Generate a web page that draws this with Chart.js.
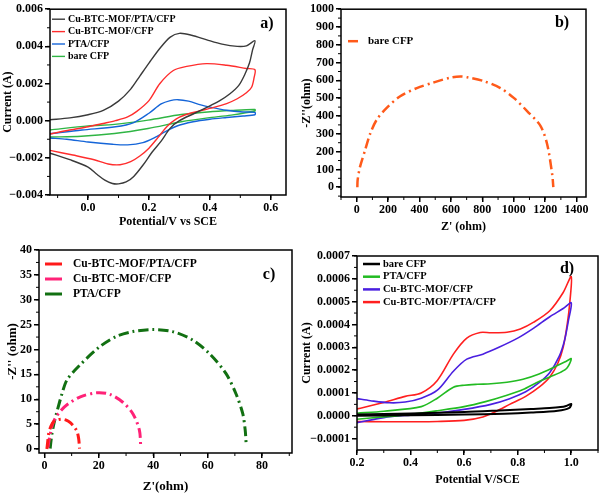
<!DOCTYPE html>
<html>
<head>
<meta charset="utf-8">
<script src="https://cdn.jsdelivr.net/npm/chart.js@4/dist/chart.umd.min.js"></script>
<style>
  body { margin: 0; background: #fff; }
  #wrap { position: relative; width: 600px; height: 494px; }
  canvas { position: absolute; }
</style>
</head>
<body>
<div id="wrap">
  <canvas id="ca" width="300" height="240" style="left:0;top:0"></canvas>
  <canvas id="cb" width="300" height="240" style="left:300px;top:0"></canvas>
  <canvas id="cc" width="300" height="254" style="left:0;top:240px"></canvas>
  <canvas id="cd" width="300" height="254" style="left:300px;top:240px"></canvas>
</div>
<script>
// ---- panel a) CV curves (forward + reverse sweep) ----
const aLabels = ['Cu-BTC-MOF/PTA/CFP', 'Cu-BTC-MOF/CFP', 'PTA/CFP', 'bare CFP']
const aXTicks = [0.0, 0.2, 0.4, 0.6]
const aYTicks = [-0.004, -0.002, 0.0, 0.002, 0.004, 0.006]

const aBlackX = [-0.125, -0.06, 0.0, 0.05, 0.1, 0.14, 0.17, 0.2, 0.236, 0.27, 0.3, 0.34, 0.39, 0.44, 0.49, 0.52, 0.548,
  0.54, 0.53, 0.515, 0.495, 0.466, 0.43, 0.40, 0.35, 0.30, 0.27, 0.24, 0.21, 0.18, 0.15, 0.125, 0.10, 0.08, 0.055, 0.03, 0.0, -0.06, -0.125]
const aBlackY = [0.00005, 0.00015, 0.00032, 0.00055, 0.00105, 0.0017, 0.0024, 0.0031, 0.0039, 0.0045, 0.0047, 0.0046, 0.00435, 0.00412, 0.004, 0.00403, 0.0043,
  0.0038, 0.0031, 0.0025, 0.0019, 0.00145, 0.00105, 0.0008, 0.0004, 0.0, -0.0004, -0.0011, -0.0017, -0.0024, -0.003, -0.0033, -0.0034, -0.00338, -0.0032, -0.0029, -0.0025, -0.0021, -0.00175]

const aRedX = [-0.125, -0.06, 0.0, 0.05, 0.09, 0.13, 0.16, 0.2, 0.236, 0.28, 0.324, 0.389, 0.455, 0.52, 0.548,
  0.545, 0.537, 0.52, 0.49, 0.455, 0.41, 0.36, 0.32, 0.29, 0.26, 0.23, 0.2, 0.17, 0.14, 0.105, 0.066, 0.02, -0.05, -0.125]
const aRedY = [-0.00072, -0.0005, -0.00033, -0.00015, 0.0, 0.0002, 0.0005, 0.00108, 0.002, 0.0027, 0.00292, 0.00307, 0.00298, 0.00281, 0.00274,
  0.0023, 0.0018, 0.0015, 0.00118, 0.00092, 0.0007, 0.0005, 0.00032, 0.0001, -0.0003, -0.0009, -0.00148, -0.0019, -0.0022, -0.00237, -0.00233, -0.0021, -0.00185, -0.0016]

const aBlueX = [-0.125, -0.02, 0.09, 0.15, 0.2, 0.24, 0.27, 0.295, 0.33, 0.37, 0.4, 0.455, 0.509, 0.548,
  0.548, 0.509, 0.455, 0.4, 0.345, 0.29, 0.25, 0.22, 0.18, 0.13, 0.08, 0.0, -0.07, -0.125]
const aBlueY = [-0.0007, -0.0005, -0.00033, -0.0001, 0.0004, 0.0009, 0.00108, 0.00113, 0.00105, 0.00085, 0.00073, 0.00056, 0.00047, 0.00045,
  0.00032, 0.00025, 0.00017, 0.00008, -0.00006, -0.0003, -0.00062, -0.0009, -0.00118, -0.0013, -0.00127, -0.00115, -0.001, -0.00093]

const aGreenX = [-0.125, 0.0, 0.087, 0.197, 0.306, 0.393, 0.47, 0.548,
  0.548, 0.47, 0.393, 0.306, 0.197, 0.087, -0.022, -0.125]
const aGreenY = [-0.0005, -0.00028, -0.0002, 0.00003, 0.00033, 0.00047, 0.00055, 0.0006,
  0.00052, 0.0003, 0.00015, -0.00006, -0.00042, -0.00069, -0.00084, -0.00088]

// ---- panel b) Nyquist bare CFP ----
const bLabels = ['bare CFP']
const bXTicks = [0, 200, 400, 600, 800, 1000, 1200, 1400]
const bYTicks = [0, 100, 200, 300, 400, 500, 600, 700, 800, 900, 1000]
const bX = [4, 6, 21, 53, 85, 128, 191, 277, 383, 489, 596, 660, 702, 809, 915, 1000, 1085, 1170, 1213, 1245, 1252]
const bY = [0, 41, 114, 207, 299, 380, 446, 511, 557, 588, 615, 622, 618, 596, 557, 502, 428, 345, 240, 70, 0]

// ---- panel c) Nyquist modified electrodes ----
const cLabels = ['Cu-BTC-MOF/PTA/CFP', 'Cu-BTC-MOF/CFP', 'PTA/CFP']
const cXTicks = [0, 20, 40, 60, 80]
const cYTicks = [0, 5, 10, 15, 20, 25, 30, 35, 40]
const cRedX = [0.9, 1.2, 1.6, 2.4, 3.4, 5, 6.5, 8, 9.5, 11, 12, 12.6, 12.9]
const cRedY = [0, 1.5, 3.2, 4.6, 5.5, 5.9, 6.0, 5.8, 5.3, 4.4, 3.5, 2, 0.1]
const cPinkX = [1.3, 1.7, 2.2, 3, 4, 6, 8.3, 13.2, 19.3, 24, 28.8, 32.5, 34.9, 35.4]
const cPinkY = [0.3, 1.8, 3.2, 5, 6.2, 7.7, 8.9, 10.5, 11.3, 11, 9.4, 7.1, 3.8, 0.4]
const cGreenX = [2.1, 2.4, 2.8, 3.6, 4.6, 6.5, 8.3, 12.9, 20.2, 26.3, 32.5, 39.8, 47.1, 54.5, 60.6, 66.7, 70.4, 72.9, 73.8, 74.1]
const cGreenY = [0.1, 1.6, 3.2, 5.4, 7.5, 11.2, 13.9, 16.8, 20.5, 22.6, 23.6, 24, 23.6, 21.9, 19.2, 15.2, 11.1, 7.1, 3.8, 1.4]

// ---- panel d) CV curves ----
const dLabels = ['bare CFP', 'PTA/CFP', 'Cu-BTC-MOF/CFP', 'Cu-BTC-MOF/PTA/CFP']
const dXTicks = [0.2, 0.4, 0.6, 0.8, 1.0]
const dYTicks = [-0.0001, 0.0, 0.0001, 0.0002, 0.0003, 0.0004, 0.0005, 0.0006, 0.0007]

const dBlackX = [0.2, 0.4, 0.6, 0.732, 0.85, 0.919, 0.96, 0.981, 1.0,
  0.993, 0.95, 0.85, 0.75, 0.6, 0.4, 0.2]
const dBlackY = [0.000006, 0.00001, 0.000016, 0.000023, 0.00003, 0.000034, 0.000038, 0.000043, 0.000052,
  0.000035, 0.000022, 0.000014, 0.000009, 0.000005, 0.000002, 0.0]

const dGreenX = [0.2, 0.3, 0.44, 0.5, 0.56, 0.6, 0.65, 0.7, 0.76, 0.82, 0.88, 0.94, 0.98, 1.0,
  0.985, 0.96, 0.92, 0.87, 0.82, 0.76, 0.68, 0.6, 0.5, 0.4, 0.3, 0.2]
const dGreenY = [0.000011, 0.00002, 0.00004, 0.000077, 0.000125, 0.000134, 0.000138, 0.00014, 0.000147, 0.00016, 0.000183, 0.000215, 0.000238, 0.00025,
  0.00021, 0.00019, 0.00017, 0.000145, 0.000115, 0.00009, 0.000062, 0.00004, 0.000022, 0.000006, -0.000005, -0.000015]

const dBlueX = [0.2, 0.25, 0.32, 0.38, 0.44, 0.5, 0.56, 0.61, 0.67, 0.73, 0.8, 0.86, 0.92, 0.97, 1.0,
  0.99, 0.975, 0.955, 0.92, 0.88, 0.83, 0.77, 0.7, 0.6, 0.5, 0.4, 0.3, 0.2]
const dBlueY = [0.000075, 0.000066, 0.000057, 0.00006, 0.000077, 0.000112, 0.000195, 0.000248, 0.00027, 0.0003, 0.00034, 0.000384, 0.000434, 0.00047, 0.000495,
  0.00042, 0.00033, 0.00026, 0.00019, 0.000145, 0.000105, 0.000075, 0.00005, 0.000028, 0.000012, 0.000003, -0.000008, -0.00003]

const dRedX = [0.2, 0.3, 0.38, 0.44, 0.5, 0.56, 0.61, 0.66, 0.7, 0.76, 0.81, 0.86, 0.92, 0.97, 1.0,
  0.995, 0.985, 0.97, 0.95, 0.92, 0.88, 0.83, 0.77, 0.72, 0.67, 0.6, 0.5, 0.4, 0.3, 0.2]
const dRedY = [0.00003, 0.000058, 0.000085, 0.0001, 0.000155, 0.00027, 0.00034, 0.000365, 0.000364, 0.000366, 0.00038, 0.00041, 0.00046, 0.00054, 0.00061,
  0.0005, 0.0004, 0.0003, 0.00023, 0.00017, 0.000125, 0.000085, 0.00005, 0.00002, -0.000005, -0.00002, -0.000025, -0.000026, -0.000026, -0.000025]

Chart.defaults.font.family = '"Liberation Serif", "Times New Roman", serif'
Chart.defaults.font.weight = 'bold'
Chart.defaults.color = '#000'

function pts(xs, ys) {
  return xs.map((x, i) => ({ x: x, y: ys[i] }))
}

function minus(s) {
  return s.replace('-', '\u2212')
}

// frame, minor ticks, legend and panel letter
const decor = {
  id: 'decor',
  afterDraw(chart, args, o) {
    const { ctx, chartArea: ca, scales } = chart
    ctx.save()
    ctx.strokeStyle = '#000'
    ctx.lineWidth = 1.5
    ctx.strokeRect(ca.left, ca.top, ca.right - ca.left, ca.bottom - ca.top)

    // minor ticks
    ctx.lineWidth = 1
    ctx.beginPath()
    const xs = scales.x, ys = scales.y
    for (let k = Math.ceil(xs.min / o.minorX); k * o.minorX <= xs.max; k++) {
      const px = xs.getPixelForValue(k * o.minorX)
      ctx.moveTo(px, ca.bottom)
      ctx.lineTo(px, ca.bottom + 3)
    }
    for (let k = Math.ceil(ys.min / o.minorY); k * o.minorY <= ys.max + 1e-12; k++) {
      const py = ys.getPixelForValue(k * o.minorY)
      ctx.moveTo(ca.left, py)
      ctx.lineTo(ca.left - 3, py)
    }
    ctx.stroke()

    // legend
    ctx.font = o.legendFont
    ctx.textBaseline = 'middle'
    ctx.textAlign = 'left'
    chart.data.datasets.forEach((ds, i) => {
      const y = ca.top + o.legendTop + i * o.legendGap
      const x0 = ca.left + o.legendX
      ctx.strokeStyle = ds.borderColor
      ctx.lineWidth = o.legendWidth || ds.borderWidth
      ctx.setLineDash(o.legendDash ? (ds.borderDash || []) : [])
      ctx.beginPath()
      ctx.moveTo(x0, y)
      ctx.lineTo(x0 + o.legendLen, y)
      ctx.stroke()
      ctx.setLineDash([])
      ctx.fillStyle = '#000'
      ctx.fillText(ds.label, x0 + o.legendLen + o.legendTextGap, y)
    })

    ctx.font = 'bold 16px "Liberation Serif", serif'
    ctx.textAlign = 'center'
    ctx.fillText(o.letter, ca.right - o.letterDx, ca.top + o.letterDy)
    ctx.restore()
  }
}

function makeChart(id, p) {
  const ctx = document.getElementById(id).getContext('2d')
  return new Chart(ctx, {
    type: 'scatter',
    data: { datasets: p.datasets },
    plugins: [decor],
    options: {
      responsive: false,
      animation: false,
      devicePixelRatio: 1,
      layout: { padding: p.padding },
      elements: { point: { radius: 0 }, line: { tension: 0.3 } },
      plugins: {
        legend: { display: false },
        tooltip: { enabled: false },
        decor: p.decor,
      },
      scales: {
        x: {
          type: 'linear',
          min: p.xMin, max: p.xMax,
          afterFit: (s) => { s.height = p.xAxisH },
          afterBuildTicks: (s) => { s.ticks = p.xTicks.map((v) => ({ value: v })) },
          grid: { drawOnChartArea: false, drawTicks: true, tickLength: 5, color: '#000', lineWidth: 1.5 },
          border: { display: false },
          ticks: { font: { size: p.tickSize }, padding: 1, maxRotation: 0, callback: p.xFmt },
          title: { display: true, text: p.xTitle, font: { size: p.titleSize }, padding: { top: 0, bottom: p.xTitlePad } },
        },
        y: {
          type: 'linear',
          min: p.yMin, max: p.yMax,
          afterFit: (s) => { s.width = p.yAxisW },
          afterBuildTicks: (s) => { s.ticks = p.yTicks.map((v) => ({ value: v })) },
          grid: { drawOnChartArea: false, drawTicks: true, tickLength: 5, color: '#000', lineWidth: 1.5 },
          border: { display: false },
          ticks: { font: { size: p.tickSize }, padding: 2, callback: p.yFmt },
          title: { display: true, text: p.yTitle, font: { size: p.titleSize }, padding: { top: p.yTitlePad, bottom: 0 } },
        },
      },
    },
  })
}

function line(label, xs, ys, color, width, dash) {
  return {
    label: label,
    data: pts(xs, ys),
    showLine: true,
    borderColor: color,
    backgroundColor: color,
    borderWidth: width,
    borderDash: dash || [],
    pointRadius: 0,
  }
}

makeChart('ca', {
  datasets: [
    line(aLabels[0], aBlackX, aBlackY, '#3a3a3a', 1.4),
    line(aLabels[1], aRedX, aRedY, '#ff2d2d', 1.4),
    line(aLabels[2], aBlueX, aBlueY, '#1565d8', 1.4),
    line(aLabels[3], aGreenX, aGreenY, '#2fb544', 1.4),
  ],
  padding: { left: 0, top: 6, right: 14, bottom: 0 },
  xMin: -0.125, xMax: 0.65, yMin: -0.004, yMax: 0.006,
  xTicks: aXTicks, yTicks: aYTicks,
  xFmt: (v) => v.toFixed(1), yFmt: (v) => minus(v.toFixed(3)),
  xAxisH: 45, yAxisW: 50, tickSize: 12, titleSize: 12,
  xTitle: 'Potential/V vs SCE', yTitle: 'Current (A)', xTitlePad: 11, yTitlePad: 1,
  decor: { minorX: 0.1, minorY: 0.001, legendFont: 'bold 10px "Liberation Serif", serif', legendX: 2, legendLen: 13,
    legendTextGap: 3, legendTop: 10, legendGap: 12.4, legendDash: true, letter: 'a)', letterDx: 19, letterDy: 15 },
})

makeChart('cb', {
  datasets: [
    line(bLabels[0], bX, bY, '#ff5a1a', 2.5, [10, 4, 2, 4]),
  ],
  padding: { left: 0, top: 7, right: 14, bottom: 0 },
  xMin: -100, xMax: 1460, yMin: -55, yMax: 1000,
  xTicks: bXTicks, yTicks: bYTicks,
  xFmt: (v) => String(v), yFmt: (v) => String(v),
  xAxisH: 43, yAxisW: 41, tickSize: 12, titleSize: 12,
  xTitle: "Z' (ohm)", yTitle: "-Z''(ohm)", xTitlePad: 6, yTitlePad: 0,
  decor: { minorX: 100, minorY: 50, legendFont: 'bold 11px "Liberation Serif", serif', legendX: 7, legendLen: 14,
    legendTextGap: 6, legendTop: 32, legendGap: 14, legendDash: true, letter: 'b)', letterDx: 24, letterDy: 14 },
})

makeChart('cc', {
  datasets: [
    line(cLabels[0], cRedX, cRedY, '#ff1a1a', 3, [10, 4, 2, 4]),
    line(cLabels[1], cPinkX, cPinkY, '#ff2277', 3, [10, 4, 2, 4]),
    line(cLabels[2], cGreenX, cGreenY, '#127012', 3, [10, 4, 2, 4]),
  ],
  padding: { left: 0, top: 10, right: 8, bottom: 0 },
  xMin: -2, xMax: 91, yMin: -0.8, yMax: 40,
  xTicks: cXTicks, yTicks: cYTicks,
  xFmt: (v) => String(v), yFmt: (v) => String(v),
  xAxisH: 41, yAxisW: 39, tickSize: 12, titleSize: 13,
  xTitle: "Z'(ohm)", yTitle: "-Z'' (ohm)", xTitlePad: 0, yTitlePad: 5,
  decor: { minorX: 10, minorY: 2.5, legendFont: 'bold 11.5px "Liberation Serif", serif', legendX: 6, legendLen: 17,
    legendTextGap: 11, legendTop: 14, legendGap: 15, legendDash: false, legendWidth: 3, letter: 'c)', letterDx: 23, letterDy: 25 },
})

makeChart('cd', {
  datasets: [
    line(dLabels[0], dBlackX, dBlackY, '#000000', 2),
    line(dLabels[1], dGreenX, dGreenY, '#22bb22', 1.6),
    line(dLabels[2], dBlueX, dBlueY, '#4a1fe0', 1.6),
    line(dLabels[3], dRedX, dRedY, '#ff1f1f', 1.6),
  ],
  padding: { left: 0, top: 16, right: 2, bottom: 0 },
  xMin: 0.2, xMax: 1.1, yMin: -0.00015, yMax: 0.0007,
  xTicks: dXTicks, yTicks: dYTicks,
  xFmt: (v) => v.toFixed(1), yFmt: (v) => minus(v.toFixed(4)),
  xAxisH: 44, yAxisW: 57, tickSize: 12, titleSize: 12,
  xTitle: 'Potential V/SCE', yTitle: 'Current (A)', xTitlePad: 7, yTitlePad: 0,
  decor: { minorX: 0.1, minorY: 0.00005, legendFont: 'bold 10.5px "Liberation Serif", serif', legendX: 6, legendLen: 17,
    legendTextGap: 3, legendTop: 8, legendGap: 12.7, legendDash: false, legendWidth: 2.5, letter: 'd)', letterDx: 31, letterDy: 13 },
})
</script>
</body>
</html>
